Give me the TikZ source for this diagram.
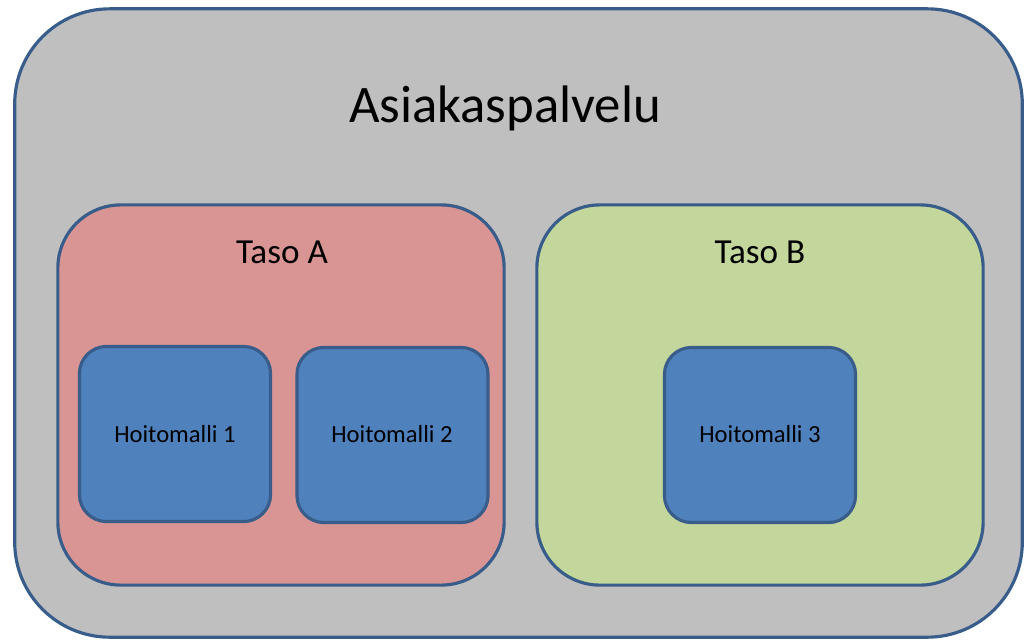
\documentclass[tikz,border=0pt]{standalone}
\usepackage{fontspec}
\setmainfont{Carlito}
\definecolor{reuna}{HTML}{385D8A}
\definecolor{harmaa}{HTML}{BFBFBF}
\definecolor{punainen}{HTML}{D99594}
\definecolor{vihrea}{HTML}{C3D69B}
\definecolor{sininen}{HTML}{4F81BD}
\tikzset{
	laatikko/.style={draw=reuna, line width=0.9pt, inner sep=0pt},
	ulkobox/.style={laatikko, fill=harmaa, rounded corners=0.95cm, minimum width=10.07cm, minimum height=6.28cm},
	tasobox/.style={laatikko, rounded corners=0.63cm, minimum width=4.46cm, minimum height=3.80cm},
	mallibox/.style={laatikko, fill=sininen, rounded corners=0.27cm, minimum width=1.91cm, minimum height=1.75cm},
	otsikko/.style={anchor=base, inner sep=0pt}
}
\begin{document}
\begin{tikzpicture}[x=0.01cm,y=-0.01cm]
			\useasboundingbox (0,0) rectangle (1024,639);

			\node[ulkobox] (asiakas) at (518.5,323) {};
			\node[otsikko] (asiakasteksti) at (505,122) {\fontsize{15}{18}\selectfont Asiakaspalvelu};

			\node[tasobox, fill=punainen] (tasoA) at (281,395) {};
			\node[tasobox, fill=vihrea] (tasoB) at (760,395) {};
			\node[otsikko] (tasoAteksti) at (282,263) {\fontsize{10}{12}\selectfont Taso A};
			\node[otsikko] (tasoBteksti) at (760,263) {\fontsize{10}{12}\selectfont Taso B};

			\node[mallibox] (malli1) at (175,434) {};
			\node[mallibox] (malli2) at (392.5,435) {};
			\node[mallibox] (malli3) at (760,435) {};
			\node[otsikko] at (175,442) {\fontsize{7}{9}\selectfont Hoitomalli 1};
			\node[otsikko] at (392,442) {\fontsize{7}{9}\selectfont Hoitomalli 2};
			\node[otsikko] at (760,442) {\fontsize{7}{9}\selectfont Hoitomalli 3};
		\end{tikzpicture}
\end{document}
